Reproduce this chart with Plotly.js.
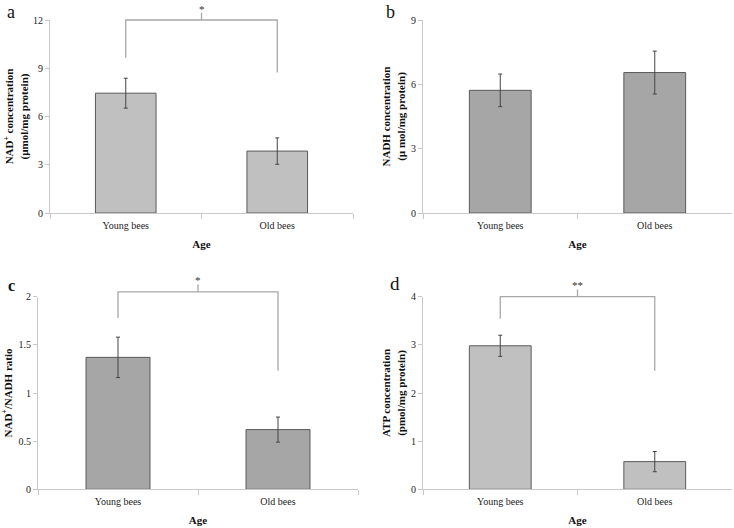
<!DOCTYPE html>
<html>
<head>
<meta charset="utf-8">
<script src="https://cdn.plot.ly/plotly-3.0.1.min.js"></script>
<style>html,body{margin:0;padding:0;background:#fff;}#chart{width:734px;height:528px;}</style>
</head>
<body>
<div id="chart"></div>
<script>
// ---- data ----
const categories = ['Young bees', 'Old bees'];
const nadPlus = [7.45, 3.85];
const nadPlusErr = [0.93, 0.82];
const nadh = [5.72, 6.55];
const nadhErr = [0.76, 1.0];
const ratio = [1.37, 0.62];
const ratioErr = [0.21, 0.13];
const atp = [2.98, 0.575];
const atpErr = [0.22, 0.21];
const ticksA = [0, 3, 6, 9, 12];
const ticksB = [0, 3, 6, 9];
const ticksC = [0, 0.5, 1, 1.5, 2];
const ticksD = [0, 1, 2, 3, 4];
// significance brackets: [left end, top, centre tick top, right end]
const bracketA = [9.66, 12, 12.45, 8.73];
const bracketC = [1.78, 2.05, 2.13, 1.23];
const bracketD = [3.54, 4.0, 4.15, 2.46];
const sigA = '*', sigC = '*', sigD = '**';

// ---- layout helpers ----
const W = 734, H = 528;
const FONT = '"Liberation Serif", "Times New Roman", serif';
const light = '#c0c0c0', mid = '#a6a6a6';
const px = (a, b) => [a / W, b / W];
const py = (top, bottom) => [1 - bottom / H, 1 - top / H];

const panels = [
  {id: '', vals: nadPlus, errs: nadPlusErr, color: light, ticks: ticksA,
   xd: px(50, 353), yd: py(20, 213),
   title: '<b>NAD<sup>+</sup> concentration<br>(µmol/mg protein)</b>', standoff: 2,
   bracket: bracketA, sig: sigA},
  {id: '2', vals: nadh, errs: nadhErr, color: mid, ticks: ticksB,
   xd: px(423, 732), yd: py(20, 213),
   title: '<b>NADH concentration<br>(µ mol/mg protein)</b>', standoff: 3},
  {id: '3', vals: ratio, errs: ratioErr, color: mid, ticks: ticksC,
   xd: px(38, 358), yd: py(296.7, 489.3),
   title: '<b>NAD<sup>+</sup>/NADH ratio</b>', standoff: 8,
   bracket: bracketC, sig: sigC},
  {id: '4', vals: atp, errs: atpErr, color: light, ticks: ticksD,
   xd: px(423, 732), yd: py(296.7, 489.3),
   title: '<b>ATP concentration<br>(pmol/mg protein)</b>', standoff: 3,
   bracket: bracketD, sig: sigD}
];

const traces = [];
const layout = {
  width: W, height: H, margin: {l: 0, r: 0, t: 0, b: 0},
  paper_bgcolor: '#fff', plot_bgcolor: 'rgba(0,0,0,0)', showlegend: false,
  bargap: 0.6, font: {family: FONT, size: 10, color: '#222'},
  annotations: []
};

panels.forEach((p, i) => {
  const xa = 'x' + p.id, ya = 'y' + p.id;
  traces.push({
    type: 'bar', x: categories, y: p.vals, xaxis: xa, yaxis: ya,
    marker: {color: p.color, line: {color: '#5a5a5a', width: 1}},
    error_y: {type: 'data', array: p.errs, visible: true, color: '#444', thickness: 1, width: 2},
    hoverinfo: 'skip'
  });
  const ymax = p.ticks[p.ticks.length - 1];
  layout['xaxis' + p.id] = {
    domain: p.xd, anchor: ya, type: 'category', tickson: 'boundaries',
    ticks: 'outside', ticklen: 5, tickcolor: '#c8c8c8', showline: true, linecolor: '#c8c8c8',
    ticklabelstandoff: 3,
    showgrid: false, zeroline: false, tickfont: {family: FONT, size: 10, color: '#222'},
    title: {text: '<b>Age</b>', font: {family: FONT, size: 11, color: '#111'}, standoff: 10}
  };
  layout['yaxis' + p.id] = {
    domain: p.yd, anchor: xa, range: [0, ymax], tickvals: p.ticks,
    ticks: 'outside', ticklen: 4, tickcolor: '#c8c8c8', showline: true, linecolor: '#c8c8c8',
    showgrid: false, zeroline: false, tickfont: {family: FONT, size: 10, color: '#222'},
    title: {text: p.title, font: {family: FONT, size: 11, color: '#111'}, standoff: p.standoff}
  };
  if (p.bracket) {
    const k = 5 + i;
    const bx = 'x' + k, by = 'y' + k;
    const d0 = p.yd[0], d1 = p.yd[1];
    const extTop = Math.min(1, d1 + 0.06);
    const rangeTop = ymax * (extTop - d0) / (d1 - d0);
    layout['xaxis' + k] = {domain: p.xd, anchor: by, range: [-0.5, 1.5], visible: false, fixedrange: true};
    layout['yaxis' + k] = {domain: [d0, extTop], anchor: bx, range: [0, rangeTop], visible: false, fixedrange: true};
    const b = p.bracket;
    traces.push({
      type: 'scatter', mode: 'lines', xaxis: bx, yaxis: by, hoverinfo: 'skip',
      x: [0, 0, 0.5, 0.5, 0.5, 1, 1],
      y: [b[0], b[1], b[1], b[2], b[1], b[1], b[3]],
      line: {color: '#a8a8a8', width: 1.3}
    });
    layout.annotations.push({
      xref: bx, yref: by, x: 0.5, y: b[2], text: p.sig, showarrow: false,
      yanchor: 'bottom', yshift: -4, font: {family: FONT, size: 11, color: '#333'}
    });
  }
});

// panel letters
[['a', 11, 12, false, 18], ['b', 390, 12, false, 18], ['c', 11, 285, true, 16], ['d', 395, 283, false, 19]]
  .forEach(([t, x, y, bold, s]) => layout.annotations.push({
    xref: 'paper', yref: 'paper', x: x / W, y: 1 - y / H, xanchor: 'center', yanchor: 'middle',
    borderpad: 0, text: bold ? '<b>' + t + '</b>' : t, showarrow: false,
    font: {family: FONT, size: s, color: '#111'}
  }));

Plotly.newPlot('chart', traces, layout, {staticPlot: true, displayModeBar: false});
</script>
</body>
</html>
